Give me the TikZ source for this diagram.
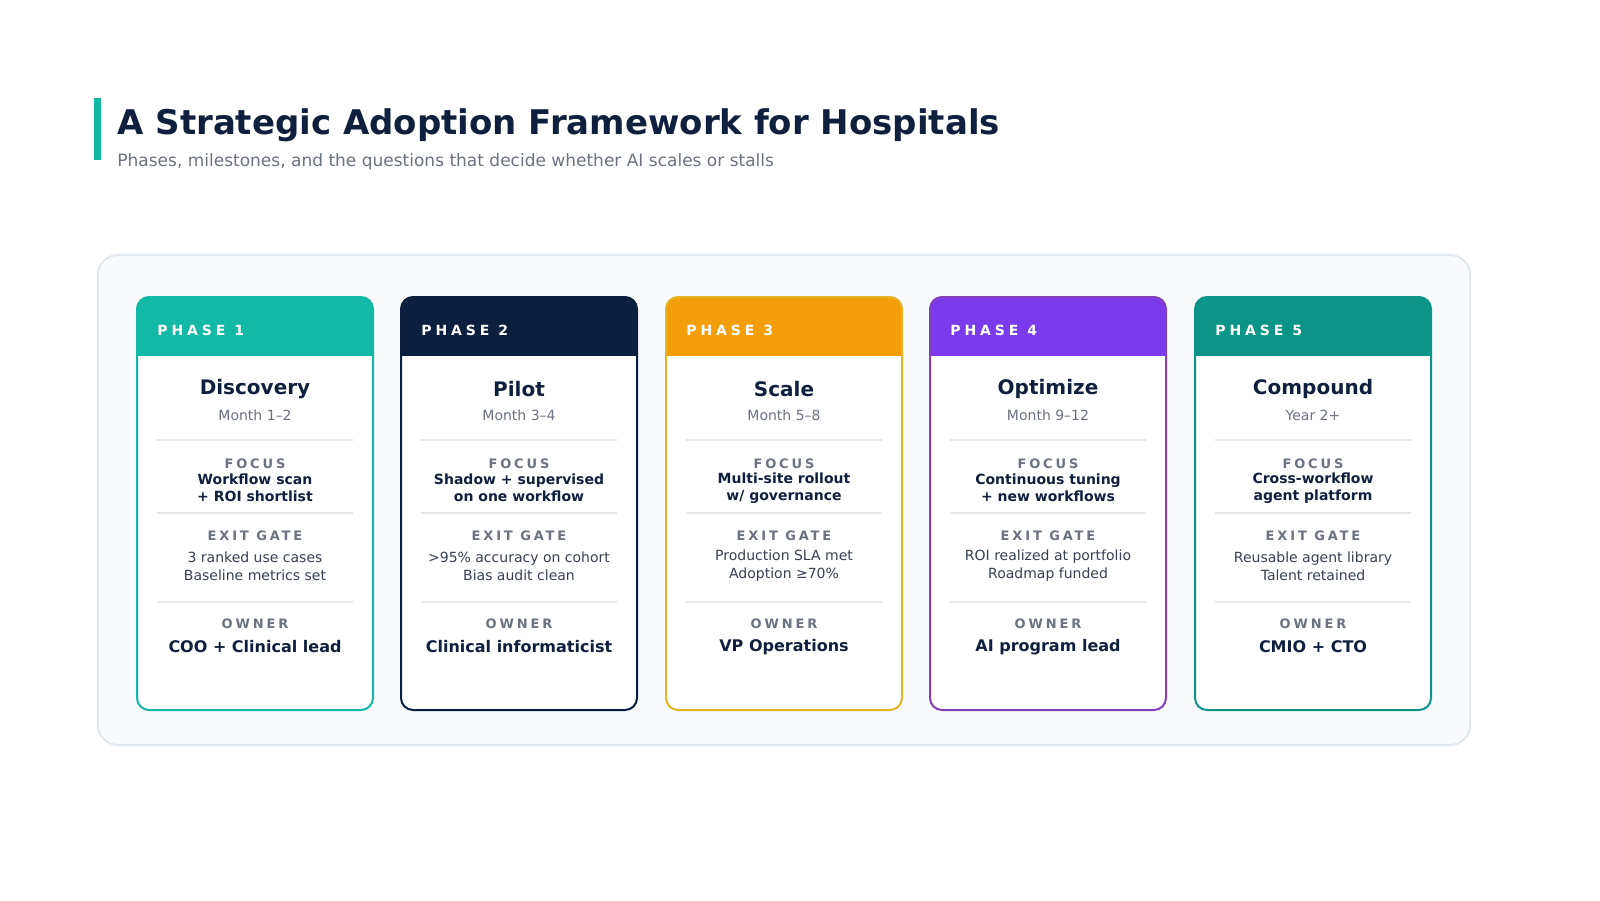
\documentclass[tikz,border=0pt]{standalone}
\usepackage{fontspec}
\setmainfont{DejaVu Sans}
\newfontfamily\spacedfont[LetterSpace=28]{DejaVu Sans}
\newfontfamily\spacedlabel[LetterSpace=22]{DejaVu Sans}
\definecolor{ink}{HTML}{0F1F3D}
\definecolor{muted}{HTML}{6B7280}
\definecolor{bodytxt}{HTML}{374151}
\definecolor{rulegray}{HTML}{E5E7EB}
\definecolor{panelbg}{HTML}{F8FAFC}
\definecolor{panelline}{HTML}{E2E8F0}
\definecolor{cteal}{HTML}{14B8A6}
\definecolor{cnavy}{HTML}{0B1F3F}
\definecolor{corange}{HTML}{F59E0B}
\definecolor{cgold}{HTML}{E6B325}
\definecolor{cpurple}{HTML}{7C3AED}
\definecolor{cplum}{HTML}{8142B8}
\definecolor{cdteal}{HTML}{0D9488}
\tikzset{
  headlabel/.style={font=\spacedfont\bfseries\fontsize{7}{8}\selectfont, text=white, anchor=west, inner sep=0},
  phasename/.style={font=\bfseries\fontsize{10}{12}\selectfont, text=ink, inner sep=0},
  monthtxt/.style={font=\fontsize{7}{8}\selectfont, text=muted, inner sep=0},
  rowlabel/.style={font=\spacedlabel\bfseries\fontsize{6.5}{8}\selectfont, text=muted, inner sep=0},
  focustxt/.style={font=\bfseries\fontsize{7}{8.5}\selectfont, text=ink, inner sep=0, align=center},
  gatetxt/.style={font=\fontsize{7}{9}\selectfont, text=bodytxt, inner sep=0, align=center},
  ownertxt/.style={font=\bfseries\fontsize{8}{9}\selectfont, text=ink, inner sep=0},
}
\begin{document}
\begin{tikzpicture}[x=0.5pt,y=-0.5pt]
  \useasboundingbox[fill=white] (0,0) rectangle (1600,900);
  % title block
  \fill[cteal] (94,98) rectangle (101,160);
  \node[anchor=west, inner sep=0, font=\bfseries\fontsize{17}{20}\selectfont, text=ink] (title) at (117,125) {A Strategic Adoption Framework for Hospitals};
  \node[anchor=west, inner sep=0, font=\fontsize{8.5}{10}\selectfont, text=muted] (subtitle) at (117,162) {Phases, milestones, and the questions that decide whether AI scales or stalls};
  % panel
  \draw[panelline, fill=panelbg, line width=1pt, rounded corners=10pt] (98,255) rectangle (1470,745);
  % cards
  \foreach \i/\x/\hc/\bc/\nm/\mo/\fa/\fb/\ga/\gb/\ow in {
    1/137/cteal/cteal/Discovery/{Month 1–2}/{Workflow scan}/{+ ROI shortlist}/{3 ranked use cases}/{Baseline metrics set}/{COO + Clinical lead},
    2/401/cnavy/cnavy/Pilot/{Month 3–4}/{Shadow + supervised}/{on one workflow}/{>95\% accuracy on cohort}/{Bias audit clean}/{Clinical informaticist},
    3/666/corange/cgold/Scale/{Month 5–8}/{Multi-site rollout}/{w/ governance}/{Production SLA met}/{Adoption ≥70\%}/{VP Operations},
    4/930/cpurple/cplum/Optimize/{Month 9–12}/{Continuous tuning}/{+ new workflows}/{ROI realized at portfolio}/{Roadmap funded}/{AI program lead},
    5/1195/cdteal/cdteal/Compound/{Year 2+}/{Cross-workflow}/{agent platform}/{Reusable agent library}/{Talent retained}/{CMIO + CTO}} {
    \begin{scope}
      \clip[rounded corners=6pt] (\x,297) rectangle ++(236,413);
      \fill[white] (\x,297) rectangle ++(236,413);
      \fill[\hc] (\x,297) rectangle ++(236,59);
    \end{scope}
    \draw[\bc, line width=1pt, rounded corners=6pt] (\x,297) rectangle ++(236,413);
    \node[headlabel] (head\i) at (\x+20,330) {PHASE \i};
    \node[phasename] (name\i) at (\x+118,389) {\nm};
    \node[monthtxt] (month\i) at (\x+118,415) {\mo};
    \foreach \yy in {440,513,602}
      \draw[rulegray, line width=1pt] (\x+20,\yy) -- (\x+216,\yy);
    \node[rowlabel] (focuslbl\i) at (\x+118,464) {FOCUS};
    \node[focustxt] (focus\i) at (\x+118,488) {\fa\\\fb};
    \node[rowlabel] (gatelbl\i) at (\x+118,536) {EXIT GATE};
    \node[gatetxt] (gate\i) at (\x+118,566) {\ga\\\gb};
    \node[rowlabel] (ownerlbl\i) at (\x+118,624) {OWNER};
    \node[ownertxt] (owner\i) at (\x+118,647) {\ow};
  }
\end{tikzpicture}
\end{document}
